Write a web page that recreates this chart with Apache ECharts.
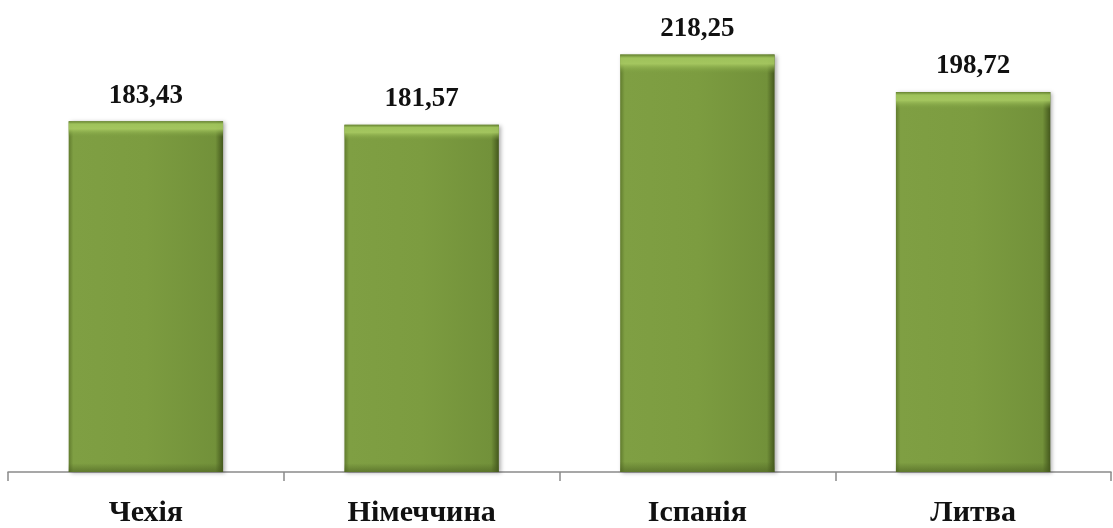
<!DOCTYPE html>
<html><head><meta charset="utf-8">
<script src="https://cdn.jsdelivr.net/npm/echarts@6/dist/echarts.min.js"></script>
<style>html,body{margin:0;padding:0;background:#fff}#c{width:1113px;height:528px}</style>
</head><body><div id="c"></div>
<script>
const categories = ['Чехія', 'Німеччина', 'Іспанія', 'Литва'];
const values = [183.43, 181.57, 218.25, 198.72];
const labels = ['183,43', '181,57', '218,25', '198,72'];

const chart = echarts.init(document.getElementById('c'));
const font = '"Liberation Serif", "Times New Roman", serif';
chart.setOption({
  animation: false,
  grid: {left: 8, right: 2, top: 13, bottom: 53},
  xAxis: {
    type: 'category', data: categories,
    axisLine: {lineStyle: {color: '#8a8a8a', width: 1.5}},
    axisTick: {show: true, length: 9, lineStyle: {color: '#8a8a8a', width: 1.5}},
    axisLabel: {fontFamily: font, fontWeight: 'bold', fontSize: 30, color: '#111', margin: 26}
  },
  yAxis: {type: 'value', min: 0, max: 240, show: false, splitLine: {show: false}},
  series: [{
    type: 'bar', data: values, barWidth: '56%',
    itemStyle: {
      color: {type: 'linear', x: 0, y: 0, x2: 1, y2: 0, colorStops: [
        {offset: 0, color: '#617c2e'}, {offset: 0.03, color: '#7f9f43'},
        {offset: 0.5, color: '#7c9c40'}, {offset: 0.95, color: '#72913a'},
        {offset: 1, color: '#44581d'}]},
      shadowBlur: 4, shadowColor: 'rgba(0,0,0,0.3)', shadowOffsetX: 2, shadowOffsetY: 1
    },
    label: {
      show: true, position: 'top', distance: 12,
      formatter: p => labels[p.dataIndex],
      fontFamily: font, fontWeight: 'bold', fontSize: 27, color: '#111'
    },
    z: 2
  }, {
    type: 'bar', data: values, barWidth: '56%', barGap: '-100%', silent: true,
    itemStyle: {
      color: {type: 'linear', x: 0, y: 0, x2: 0, y2: 1, colorStops: [
        {offset: 0, color: 'rgba(100,128,48,0.9)'}, {offset: 0.008, color: 'rgba(160,196,92,0.95)'},
        {offset: 0.022, color: 'rgba(168,202,98,0.9)'}, {offset: 0.045, color: 'rgba(125,160,65,0)'},
        {offset: 0.975, color: 'rgba(70,90,30,0)'}, {offset: 1, color: 'rgba(70,90,30,0.55)'}]}
    },
    z: 3
  }]
});
</script></body></html>
